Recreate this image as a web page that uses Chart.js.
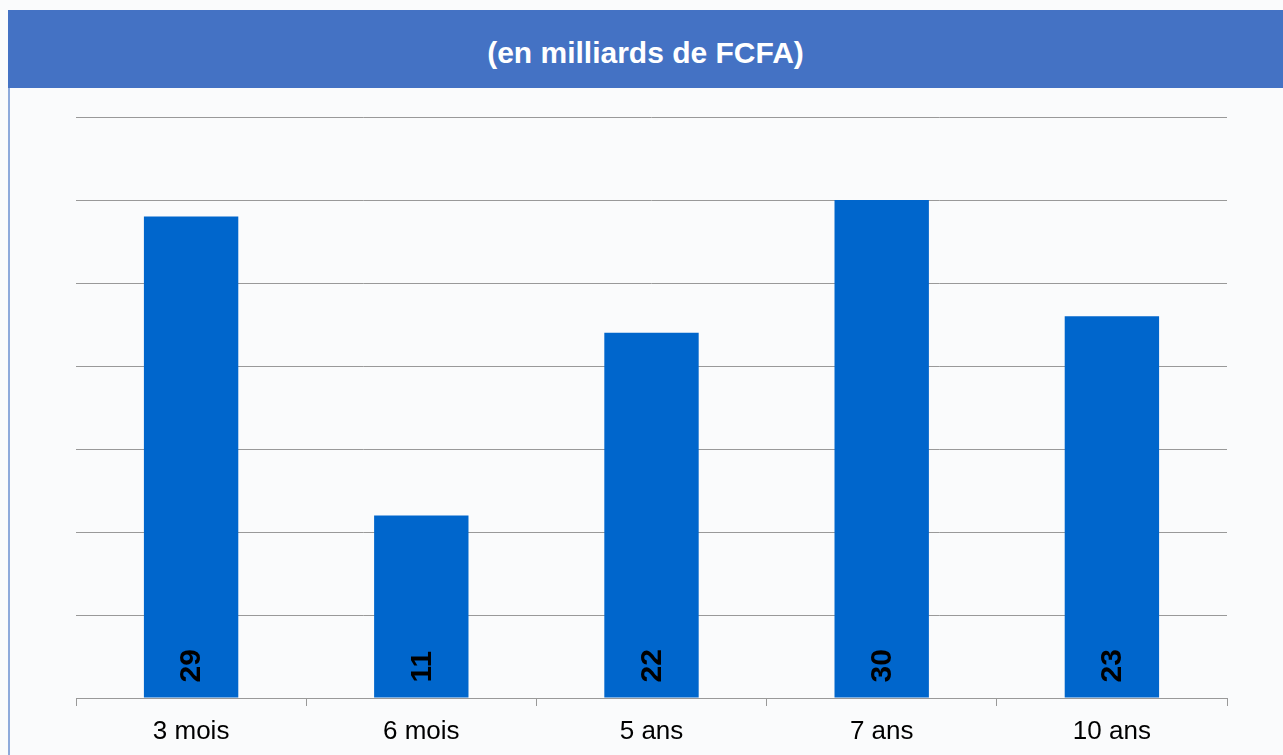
<!DOCTYPE html>
<html lang="fr">
<head>
  <meta charset="UTF-8">
  <title>Montants (en milliards de FCFA)</title>
  <script src="https://cdn.jsdelivr.net/npm/chart.js"></script>
  <style>
* {
  margin: 0;
  padding: 0;
}

body {
  width: 1283px;
  height: 755px;
  overflow: hidden;
  position: relative;
  background: #fafbfc;
  font-family: 'Liberation Sans', Arial, sans-serif;
}

.header {
  position: absolute;
  left: 8px;
  top: 10px;
  width: 1275px;
  height: 78px;
  background: #4472c4;
  color: #fff;
  font-weight: bold;
  font-size: 30px;
  text-align: center;
  line-height: 86px;
}

.chart-box {
  position: absolute;
  left: 8px;
  top: 88px;
  width: 1273px;
  height: 667px;
  border-left: 2px solid #8eaadb;
}
  </style>
</head>
<body>
  <div class="header">(en milliards de FCFA)</div>
  <div class="chart-box">
    <canvas id="chart"></canvas>
  </div>
  <script>
// data
const categories = ['3 mois', '6 mois', '5 ans', '7 ans', '10 ans'];
const montants = [29, 11, 22, 30, 23];
const yMax = 35;
const yStep = 5;

// draws the value, turned on its side, at the foot of each bar
const barValues = {
  id: 'barValues',
  afterDatasetsDraw(chart) {
    const ctx = chart.ctx;
    const meta = chart.getDatasetMeta(0);
    ctx.save();
    ctx.fillStyle = '#000';
    ctx.font = 'bold 30px "Liberation Sans", Arial, sans-serif';
    ctx.textAlign = 'left';
    ctx.textBaseline = 'middle';
    meta.data.forEach((bar, i) => {
      ctx.save();
      ctx.translate(bar.x, bar.base - 15);
      ctx.rotate(-Math.PI / 2);
      ctx.fillText(String(montants[i]), 0, 1);
      ctx.restore();
    });
    ctx.restore();
  }
};

new Chart(document.getElementById('chart'), {
  type: 'bar',
  data: {
    labels: categories,
    datasets: [{
      data: montants,
      backgroundColor: '#0066cc',
      borderWidth: 0,
      barPercentage: 0.41,
      categoryPercentage: 1
    }]
  },
  options: {
    responsive: true,
    maintainAspectRatio: false,
    animation: false,
    layout: {
      padding: { left: 66, right: 56, top: 29, bottom: 0 }
    },
    plugins: {
      legend: { display: false },
      tooltip: { enabled: false }
    },
    scales: {
      x: {
        afterFit(scale) { scale.height = 57; },
        grid: {
          offset: true,
          drawOnChartArea: false,
          drawTicks: true,
          tickLength: 8,
          color: '#999'
        },
        border: { color: '#999', width: 1 },
        ticks: {
          color: '#000',
          padding: 10,
          font: { family: '"Liberation Sans", Arial, sans-serif', size: 26 }
        }
      },
      y: {
        min: 0,
        max: yMax,
        ticks: { display: false, stepSize: yStep },
        grid: { color: '#999', drawTicks: false },
        border: { display: false }
      }
    }
  },
  plugins: [barValues]
});
  </script>
</body>
</html>
